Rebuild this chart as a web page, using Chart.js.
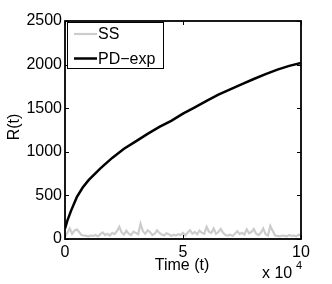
<!DOCTYPE html>
<html>
<head>
<meta charset="utf-8">
<script src="https://cdn.jsdelivr.net/npm/chart.js@4"></script>
<style>
  html, body { margin: 0; padding: 0; background: #fff; }
  #wrap { width: 332px; height: 284px; }
</style>
</head>
<body>
<div id="wrap"><canvas id="rchart" width="332" height="284"></canvas></div>
<script>
// SS: sampled every 1000 steps, t = 0 .. 100000
const ssTimes = [];
for (let i = 0; i <= 100; i++) ssTimes.push(i * 1000);
const ssValues = [
    30, 70, 120, 60, 95, 110, 80, 45, 40, 35,
    30, 40, 35, 45, 30, 55, 75, 45, 60, 40,
    70, 55, 90, 140, 75, 50, 95, 60, 45, 85,
    70, 55, 175, 90, 60, 100, 80, 45, 60, 100,
    70, 50, 40, 65, 55, 35, 50, 40, 55, 45,
    70, 40, 75, 100, 60, 80, 55, 95, 70, 60,
    140, 85, 70, 120, 60, 80, 115, 70, 45, 40,
    50, 35, 60, 90, 55, 70, 50, 110, 65, 80,
    115, 60, 45, 70, 120, 55, 40, 150, 95, 40,
    35, 30, 40, 35, 30, 45, 35, 40, 30, 50,
    45
];

// PD-exp
const pdTimes = [0, 1000, 2500, 5000, 7500, 10000, 15000, 20000, 25000, 30000,
    35000, 40000, 45000, 50000, 55000, 60000, 65000, 70000, 75000, 80000,
    85000, 90000, 95000, 100000];
const pdValues = [120, 210, 320, 480, 590, 675, 810, 930, 1035, 1120,
    1205, 1285, 1355, 1438, 1510, 1585, 1655, 1715, 1775, 1835,
    1890, 1942, 1985, 2018];

const yTicks = [0, 500, 1000, 1500, 2000, 2500];
const xTicks = [0, 50000, 100000];

const FONT = '"Liberation Sans", Arial, sans-serif';

function toPoints(xs, ys) {
    return xs.map((x, i) => ({ x: x, y: ys[i] }));
}

const decor = {
    id: 'decor',
    afterDraw(chart) {
        const ctx = chart.ctx;
        const a = chart.chartArea;
        const xs = chart.scales.x;
        const ys = chart.scales.y;
        ctx.save();

        // axes box
        ctx.strokeStyle = '#000';
        ctx.lineWidth = 1.8;
        ctx.strokeRect(a.left, a.top, a.right - a.left, a.bottom - a.top);

        // inward ticks on all sides
        ctx.lineWidth = 1;
        const tl = 4;
        ctx.beginPath();
        xTicks.forEach(v => {
            const px = Math.round(xs.getPixelForValue(v)) + 0.5;
            ctx.moveTo(px, a.bottom); ctx.lineTo(px, a.bottom - tl);
            ctx.moveTo(px, a.top); ctx.lineTo(px, a.top + tl);
        });
        yTicks.forEach(v => {
            const py = Math.round(ys.getPixelForValue(v)) + 0.5;
            ctx.moveTo(a.left, py); ctx.lineTo(a.left + tl, py);
            ctx.moveTo(a.right, py); ctx.lineTo(a.right - tl, py);
        });
        ctx.stroke();

        // legend
        const lx = 67, ly = 22, lw = 96, lh = 46;
        ctx.fillStyle = '#fff';
        ctx.fillRect(lx, ly, lw, lh);
        ctx.strokeStyle = '#000';
        ctx.lineWidth = 1;
        ctx.strokeRect(lx + 0.5, ly + 0.5, lw, lh);
        ctx.font = '16px ' + FONT;
        ctx.textBaseline = 'middle';
        ctx.textAlign = 'left';
        chart.data.datasets.forEach((ds, i) => {
            const yy = 34 + i * 24.5;
            ctx.strokeStyle = ds.borderColor;
            ctx.lineWidth = ds.borderWidth;
            ctx.beginPath();
            ctx.moveTo(74, yy); ctx.lineTo(97, yy);
            ctx.stroke();
            ctx.fillStyle = '#000';
            ctx.fillText(ds.label, 98, yy + 1);
        });

        // axis titles
        ctx.fillStyle = '#000';
        ctx.font = '16px ' + FONT;
        ctx.textAlign = 'center';
        ctx.textBaseline = 'middle';
        ctx.fillText('Time (t)', 182, 266);

        ctx.save();
        ctx.translate(15, 127);
        ctx.rotate(-Math.PI / 2);
        ctx.fillText('R(t)', 0, 0);
        ctx.restore();

        // exponent label
        ctx.textAlign = 'left';
        ctx.textBaseline = 'alphabetic';
        ctx.fillText('x 10', 262, 278);
        ctx.font = '11px ' + FONT;
        ctx.fillText('4', 296, 269);

        ctx.restore();
    }
};

new Chart(document.getElementById('rchart'), {
    type: 'line',
    data: {
        datasets: [{
            label: 'SS',
            data: toPoints(ssTimes, ssValues),
            borderColor: '#cccccc',
            borderWidth: 2.2,
            pointRadius: 0,
            tension: 0,
            order: 2
        }, {
            label: 'PD\u2212exp',
            data: toPoints(pdTimes, pdValues),
            borderColor: '#000000',
            borderWidth: 2.5,
            pointRadius: 0,
            tension: 0,
            order: 1
        }]
    },
    options: {
        responsive: false,
        animation: false,
        events: [],
        layout: { padding: { left: 0, top: 21, right: 31, bottom: 0 } },
        plugins: {
            legend: { display: false },
            tooltip: { enabled: false }
        },
        scales: {
            x: {
                type: 'linear',
                min: 0,
                max: 100000,
                afterFit: s => { s.height = 45; },
                afterBuildTicks: s => { s.ticks = xTicks.map(v => ({ value: v })); },
                grid: { display: false, drawTicks: false },
                border: { display: false },
                ticks: {
                    padding: 4,
                    maxRotation: 0,
                    color: '#000',
                    font: { family: FONT, size: 16 },
                    callback: v => String(v / 10000)
                }
            },
            y: {
                min: 0,
                max: 2500,
                afterFit: s => { s.width = 65; },
                afterBuildTicks: s => { s.ticks = yTicks.map(v => ({ value: v })); },
                grid: { display: false, drawTicks: false },
                border: { display: false },
                ticks: {
                    padding: 3,
                    color: '#000',
                    font: { family: FONT, size: 16 },
                    callback: v => String(v)
                }
            }
        }
    },
    plugins: [decor]
});
</script>
</body>
</html>
